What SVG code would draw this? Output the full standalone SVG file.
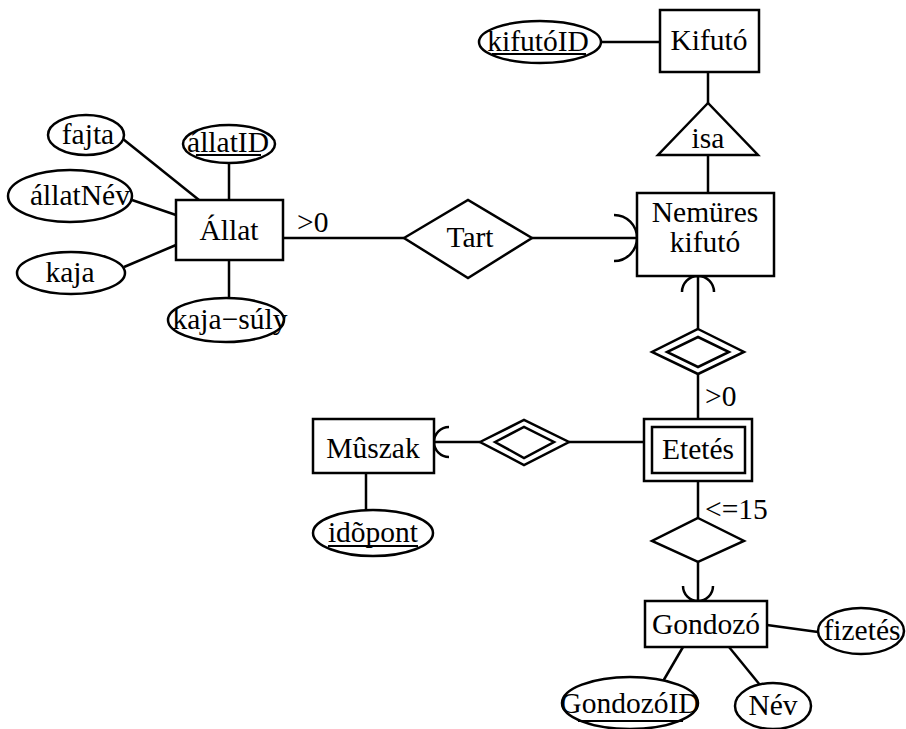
<svg xmlns="http://www.w3.org/2000/svg" width="906" height="729" viewBox="0 0 906 729">
<style>
.s{fill:#fff;stroke:#000;stroke-width:2.5}
.c{fill:none;stroke:#000;stroke-width:2.5}
text{font-family:"Liberation Serif","Times New Roman",serif;font-size:29.5px;fill:#000}
.m{text-anchor:middle}
.u{stroke:#000;stroke-width:2}
</style>
<rect width="906" height="729" fill="#fff"/>
<g id="connectors">
<line class="c" x1="601" y1="42" x2="660" y2="42"/>
<line class="c" x1="708" y1="72" x2="708" y2="103"/>
<line class="c" x1="708" y1="155" x2="708" y2="193"/>
<line class="c" x1="283" y1="238" x2="404" y2="238"/>
<line class="c" x1="532" y1="238" x2="637" y2="238"/>
<path class="c" d="M614,215 A23,23 0 0 1 614,261"/>
<line class="c" x1="698" y1="276" x2="698" y2="329"/>
<path class="c" d="M682,292 A16,16 0 0 1 714,292"/>
<line class="c" x1="698" y1="374" x2="698" y2="419"/>
<line class="c" x1="434" y1="442" x2="480" y2="442"/>
<path class="c" d="M449,427 A15,15 0 0 0 449,457"/>
<line class="c" x1="569" y1="442" x2="644" y2="442"/>
<line class="c" x1="698" y1="481" x2="698" y2="518"/>
<line class="c" x1="698" y1="562" x2="698" y2="601"/>
<path class="c" d="M683,586 A15,15 0 0 0 713,586"/>
<line class="c" x1="366" y1="473" x2="366" y2="510"/>
<line class="c" x1="767" y1="625" x2="818" y2="632"/>
<line class="c" x1="683" y1="647" x2="662" y2="683"/>
<line class="c" x1="729" y1="647" x2="760" y2="685"/>
<line class="c" x1="123" y1="139" x2="199" y2="200"/>
<line class="c" x1="229" y1="163" x2="229" y2="200"/>
<line class="c" x1="132" y1="200" x2="176" y2="215"/>
<line class="c" x1="124" y1="267" x2="176" y2="245"/>
<line class="c" x1="229" y1="260" x2="229" y2="298"/>
<text x="297" y="232">&gt;0</text>
<text x="705" y="406">&gt;0</text>
<text x="705" y="519">&lt;=15</text>
</g>
<g id="kifuto">
<rect class="s" x="660" y="10" width="99" height="62"/>
<text class="m" x="709" y="50">Kifutó</text>
</g>
<g id="kifutoID">
<ellipse class="s" cx="540" cy="42" rx="61" ry="21"/>
<text class="m" x="538" y="51">kifutóID</text>
<line class="u" x1="492" y1="54" x2="586" y2="54"/>
</g>
<g id="isa">
<polygon class="s" points="708,103 658,155 758,155"/>
<text class="m" x="708" y="148">isa</text>
</g>
<g id="nemures">
<rect class="s" x="637" y="193" width="137" height="83"/>
<text class="m" x="705" y="222">Nemüres</text>
<text class="m" x="705" y="252">kifutó</text>
</g>
<g id="allat">
<rect class="s" x="176" y="200" width="107" height="60"/>
<text class="m" x="229" y="240">Állat</text>
</g>
<g id="fajta">
<ellipse class="s" cx="86" cy="135" rx="38" ry="20"/>
<text class="m" x="88" y="144">fajta</text>
</g>
<g id="allatID">
<ellipse class="s" cx="229" cy="144" rx="46" ry="19"/>
<text class="m" x="228" y="152">állatID</text>
<line class="u" x1="196" y1="155" x2="261" y2="155"/>
</g>
<g id="allatNev">
<ellipse class="s" cx="70" cy="196" rx="62" ry="26"/>
<text class="m" x="80" y="205">állatNév</text>
</g>
<g id="kaja">
<ellipse class="s" cx="71" cy="273" rx="54" ry="21"/>
<text class="m" x="70" y="282">kaja</text>
</g>
<g id="kajasuly">
<ellipse class="s" cx="226" cy="320" rx="58" ry="22"/>
<text class="m" x="230" y="329">kaja−súly</text>
</g>
<g id="tart">
<polygon class="s" points="404,238 468,200 532,238 468,278"/>
<text class="m" x="470" y="247">Tart</text>
</g>
<g id="rel1">
<polygon class="s" points="698,329 744,352 698,374 652,352"/>
<polygon class="s" points="698,337 729,352 698,367 667,352"/>
</g>
<g id="etetes">
<rect class="s" x="644" y="419" width="108" height="62"/>
<rect class="s" x="652" y="427" width="93" height="46"/>
<text class="m" x="698" y="459">Etetés</text>
</g>
<g id="muszak">
<rect class="s" x="313" y="419" width="121" height="54"/>
<text class="m" x="373" y="458">Mûszak</text>
</g>
<g id="rel2">
<polygon class="s" points="480,442 524,420 569,442 524,465"/>
<polygon class="s" points="495,442 524,427 554,442 524,458"/>
</g>
<g id="idopont">
<ellipse class="s" cx="373" cy="533" rx="60" ry="23"/>
<text class="m" x="373" y="542">idõpont</text>
<line class="u" x1="328" y1="546" x2="418" y2="546"/>
</g>
<g id="rel3">
<polygon class="s" points="698,518 744,541 698,562 652,541"/>
</g>
<g id="gondozo">
<rect class="s" x="645" y="601" width="122" height="46"/>
<text class="m" x="706" y="634">Gondozó</text>
</g>
<g id="fizetes">
<ellipse class="s" cx="861" cy="631" rx="43" ry="23"/>
<text class="m" x="862" y="640">fizetés</text>
</g>
<g id="gondozoID">
<ellipse class="s" cx="630" cy="703" rx="68" ry="26"/>
<text class="m" x="630" y="713">GondozóID</text>
<line class="u" x1="578" y1="721" x2="683" y2="721"/>
</g>
<g id="nev">
<ellipse class="s" cx="773" cy="706" rx="38" ry="23"/>
<text class="m" x="773" y="715">Név</text>
</g>
</svg>
